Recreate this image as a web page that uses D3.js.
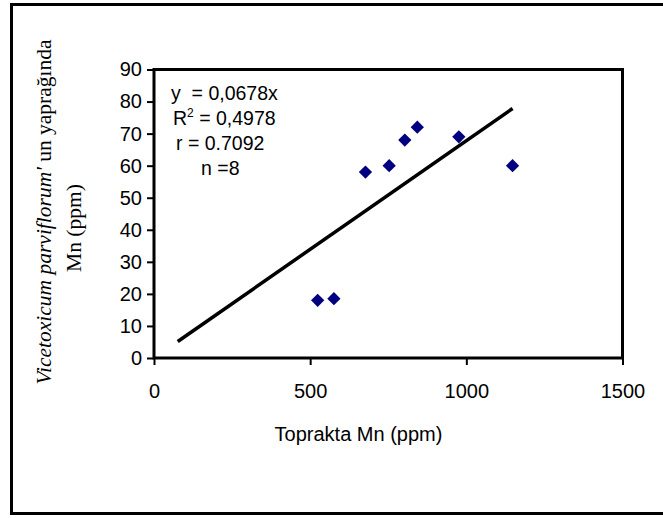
<!DOCTYPE html>
<html lang="tr">
	<head>
		<meta charset="utf-8">
		<title>Toprakta Mn - yaprakta Mn</title>
		<script type="text/javascript" src="https://cdn.jsdelivr.net/npm/d3@7"></script>
		<style type="text/css">
			body { margin: 0; background: #fff; }
			svg { display: block; }
			.axis text { font-family: Arial, "Liberation Sans", sans-serif; font-size: 20px; fill: #000; }
			.axis line { stroke: #000; stroke-width: 2; }
			.axis path { display: none; }
		</style>
	</head>
	<body>
		<script type="text/javascript">

			// Data
			var soilMn = [524, 576, 677, 753, 803, 843, 976, 1148];	// Toprakta Mn (ppm)
			var leafMn = [18, 18.5, 58, 60, 68, 72, 69, 60];			// yaprakta Mn (ppm)
			var xTicks = [0, 500, 1000, 1500];
			var yTicks = [0, 10, 20, 30, 40, 50, 60, 70, 80, 90];
			var trendSlope = 0.0678;
			var trendRange = [76, 1148];
			var statLines = ["y\u00a0 = 0,0678x", "R2", "r = 0.7092", "n =8"];

			var w = 663;
			var h = 518;

			var dataset = soilMn.map(function(d, i) { return [d, leafMn[i]]; });

			// Scales
			var xScale = d3.scaleLinear()
							.domain([0, 1500])
							.range([154, 622.5]);

			var yScale = d3.scaleLinear()
							.domain([0, 90])
							.range([358, 69.5]);

			var svg = d3.select("body")
						.append("svg")
						.attr("width", w)
						.attr("height", h);

			// Outer chart border (right edge falls off the picture)
			svg.append("rect")
				.attr("x", 11.5)
				.attr("y", 4.5)
				.attr("width", 660)
				.attr("height", 509)
				.attr("fill", "none")
				.attr("stroke", "#000")
				.attr("stroke-width", 3);

			// Axes
			svg.append("g")
				.attr("class", "x axis")
				.attr("transform", "translate(0," + yScale(0) + ")")
				.call(d3.axisBottom(xScale).tickValues(xTicks).tickFormat(d3.format("d"))
						.tickSize(7).tickPadding(19));

			svg.append("g")
				.attr("class", "y axis")
				.attr("transform", "translate(" + xScale(0) + ",0)")
				.call(d3.axisLeft(yScale).tickValues(yTicks).tickSize(7).tickPadding(5));

			// Plot area frame
			svg.append("rect")
				.attr("x", xScale(0))
				.attr("y", yScale(90))
				.attr("width", xScale(1500) - xScale(0))
				.attr("height", yScale(0) - yScale(90))
				.attr("fill", "none")
				.attr("stroke", "#000")
				.attr("stroke-width", 3);

			// Trend line
			svg.append("line")
				.attr("x1", xScale(trendRange[0]))
				.attr("y1", yScale(trendRange[0] * trendSlope))
				.attr("x2", xScale(trendRange[1]))
				.attr("y2", yScale(trendRange[1] * trendSlope))
				.attr("stroke", "#000")
				.attr("stroke-width", 3.5);

			// Diamonds
			svg.append("g")
				.selectAll("path")
				.data(dataset)
				.enter()
				.append("path")
				.attr("d", d3.symbol().type(d3.symbolSquare).size(88))
				.attr("transform", function(d) {
					return "translate(" + xScale(d[0]) + "," + yScale(d[1]) + ") rotate(45)";
				})
				.attr("fill", "#000080");

			// Regression text
			var stats = svg.append("g")
				.attr("font-family", "Arial, 'Liberation Sans', sans-serif")
				.attr("font-size", 19.5);

			var statX = [171, 173, 176, 201];
			var statY = [100, 125, 150, 175];
			statLines.forEach(function(s, i) {
				var t = stats.append("text")
					.attr("x", statX[i])
					.attr("y", statY[i]);
				if (s === "R2") {
					t.append("tspan").text("R");
					t.append("tspan").attr("font-size", 12).attr("dy", -8).text("2");
					t.append("tspan").attr("dy", 8).text(" = 0,4978");
				} else {
					t.text(s);
				}
			});

			// X axis title
			svg.append("text")
				.attr("x", 358.5)
				.attr("y", 441)
				.attr("text-anchor", "middle")
				.attr("font-family", "Arial, 'Liberation Sans', sans-serif")
				.attr("font-size", 20)
				.text("Toprakta Mn (ppm)");

			// Y axis title, two lines in a serif face
			var yTitle = svg.append("g")
				.attr("font-family", "'Times New Roman', 'Liberation Serif', serif")
				.attr("font-size", 21.5);

			var line1 = yTitle.append("text")
				.attr("text-anchor", "middle")
				.attr("transform", "translate(51,212) rotate(-90)");
			line1.append("tspan").attr("font-style", "italic").text("Vicetoxicum parviflorum'");
			line1.append("tspan").text(" un yaprağında");

			yTitle.append("text")
				.attr("text-anchor", "middle")
				.attr("transform", "translate(81,228) rotate(-90)")
				.text("Mn (ppm)");

		</script>
	</body>
</html>
